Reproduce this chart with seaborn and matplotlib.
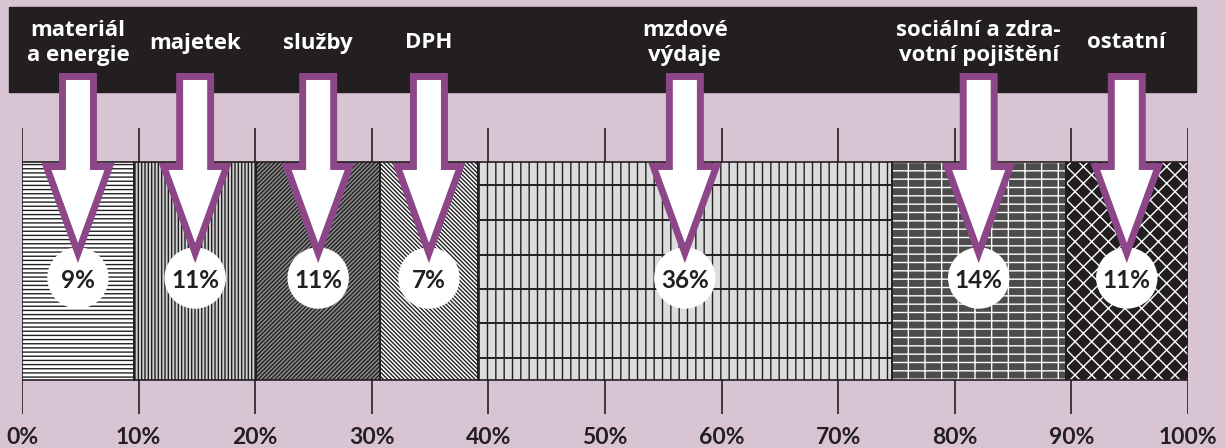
import numpy as np
import pandas as pd
import matplotlib.pyplot as plt
import seaborn as sns
from matplotlib.patches import Rectangle, Circle, Polygon

# Data
categories = ['materiál\na energie', 'majetek', 'služby', 'DPH',
              'mzdové\nvýdaje', 'sociální a zdra-\nvotní pojištění', 'ostatní']
shares = [9.6, 10.5, 10.6, 8.4, 35.5, 14.9, 10.5]          # bar widths in %
pct_labels = ['9%', '11%', '11%', '7%', '36%', '14%', '11%']
tick_values = list(range(0, 101, 10))
tick_labels = [f'{v}%' for v in tick_values]

# Styles of each segment: fill colour, hatch, hatch colour
fills = ['white', '#d0d0d0', '#8c8c8c', 'white', '#dcdcdc', '#4d4b4b', '#221e1f']
hatches = ['----', '|||||', '////////', '\\' * 8, '||', '--|', 'xx']
hatch_colors = ['#231f20', '#231f20', '#231f20', '#231f20', '#231f20', 'white', 'white']

bg = '#d9c4d4'
dark = '#231f20'
purple = '#8d4788'

plt.rcParams['hatch.linewidth'] = 1.0

df = pd.DataFrame({'kategorie': categories, 'podil': shares})
df['zacatek'] = df['podil'].cumsum() - df['podil']
df['stred'] = df['zacatek'] + df['podil'] / 2

W, H = 1225, 448
fig = plt.figure(figsize=(W / 100, H / 100), dpi=100, facecolor=bg)

# main axes holding the stacked bar
ax = fig.add_axes([22 / W, 34 / H, 1166 / W, 286 / H])
ax.set_facecolor('none')
bar_h = 0.765
for i, row in df.iterrows():
    sns.barplot(x=[row['podil']], y=['výdaje'], orient='h', left=row['zacatek'],
                width=bar_h, color=fills[i], saturation=1, errorbar=None,
                hatch=hatches[i], edgecolor=hatch_colors[i], linewidth=0, ax=ax)
# horizontal bands of the wage segment
wage = df.iloc[4]
band_y = -bar_h / 2 + bar_h * np.array([0.105, 0.266, 0.427, 0.583, 0.739, 0.899])
ax.hlines(band_y, wage['zacatek'], wage['zacatek'] + wage['podil'], color=dark, lw=1.4, zorder=2)
# outlines
for i, row in df.iterrows():
    sns.barplot(x=[row['podil']], y=['výdaje'], orient='h', left=row['zacatek'],
                width=bar_h, color=dark, fill=False, errorbar=None, linewidth=1.2, ax=ax)

ax.set_xlim(0, 100)
ax.set_ylim(0.5, -0.5)
ax.set_yticks([])
ax.set_ylabel('')
ax.set_xlabel('')
ax.set_xticks(tick_values)
ax.set_xticklabels(tick_labels, fontfamily='Lato', fontweight='bold', fontsize=16.5, color=dark)
ax.tick_params(axis='x', length=0, pad=9)
ax.set_axisbelow(True)
ax.xaxis.grid(True, color=dark, lw=1.2)
for s in ax.spines.values():
    s.set_visible(False)

# overlay in pixel coordinates for header, arrows and badges
ov = fig.add_axes([0, 0, 1, 1])
ov.set_xlim(0, W)
ov.set_ylim(H, 0)
ov.axis('off')
ov.add_patch(Rectangle((9, 7), 1187, 85, color=dark, zorder=1))

fig.canvas.draw()
for i, row in df.iterrows():
    px = ax.transData.transform((row['stred'], 0))[0]
    ov.text(px, 43, categories[i], color='white', fontfamily='Open Sans', fontweight='bold',
            fontsize=16, ha='center', va='center', linespacing=1.25, zorder=2)
    ov.add_patch(Circle((px, 278), 30, color='white', zorder=3))
    arrow = [(px - 15.5, 76.5), (px + 15.5, 76.5), (px + 15.5, 166.5), (px + 31.5, 166.5),
             (px, 253), (px - 31.5, 166.5), (px - 15.5, 166.5)]
    ov.add_patch(Polygon(arrow, closed=True, facecolor='white', edgecolor=purple,
                         lw=5, joinstyle='miter', zorder=4))
    ov.text(px, 281, pct_labels[i], color=dark, fontfamily='Lato', fontweight='bold',
            fontsize=17.5, ha='center', va='center', zorder=5)

fig.savefig('out.png', dpi=100, facecolor=bg)
